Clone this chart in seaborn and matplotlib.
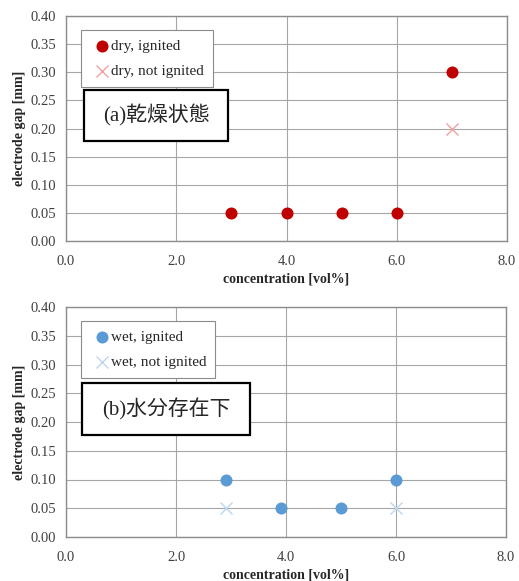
import matplotlib
matplotlib.use("Agg")
import matplotlib.pyplot as plt
from matplotlib.patches import Rectangle
import seaborn as sns
import pandas as pd

# panel (a): dry
dry_ign_x = [3.0, 4.0, 5.0, 6.0, 7.0]
dry_ign_y = [0.05, 0.05, 0.05, 0.05, 0.30]
dry_not_x = [7.0]
dry_not_y = [0.20]

# panel (b): wet
wet_ign_x = [2.9, 3.9, 5.0, 6.0]
wet_ign_y = [0.10, 0.05, 0.05, 0.10]
wet_not_x = [2.9, 6.0]
wet_not_y = [0.05, 0.05]

x_ticks = [0.0, 2.0, 4.0, 6.0, 8.0]
y_ticks = [0.00, 0.05, 0.10, 0.15, 0.20, 0.25, 0.30, 0.35, 0.40]

sns.set_style("white")
plt.rcParams['font.family'] = ['Liberation Serif', 'Noto Sans CJK JP', 'DejaVu Sans']

fig = plt.figure(figsize=(5.19, 5.81), dpi=100)
W, H = 519, 581


def panel(rect, ign_x, ign_y, not_x, not_y, c_ign, c_not, lab_ign, lab_not, tag, box):
    l, t, r, b = rect
    aw, ah = r - l, b - t
    ax = fig.add_axes([l / W, 1 - b / H, aw / W, ah / H])
    ign = pd.DataFrame({"x": ign_x, "y": ign_y})
    nig = pd.DataFrame({"x": not_x, "y": not_y})
    sns.scatterplot(data=ign, x="x", y="y", ax=ax, color=c_ign, marker="o",
                    s=75, edgecolor=c_ign, linewidth=0, label=lab_ign, zorder=3)
    sns.scatterplot(data=nig, x="x", y="y", ax=ax, color=c_not, marker="x",
                    s=75, linewidth=1.0, label=lab_not, zorder=3)
    ax.set_xlim(0, 8)
    ax.set_ylim(0, 0.40)
    ax.set_xticks(x_ticks)
    ax.set_yticks(y_ticks)
    ax.set_xticklabels([f"{v:.1f}" for v in x_ticks], fontsize=10.5, color="#404040")
    ax.set_yticklabels([f"{v:.2f}" for v in y_ticks], fontsize=10.5, color="#404040")
    ax.tick_params(axis="x", length=0, pad=10)
    ax.tick_params(axis="y", length=0, pad=7)
    ax.grid(True, color="#a6a6a6", linewidth=0.8)
    ax.set_axisbelow(True)
    for s in ax.spines.values():
        s.set_color("#8c8c8c")
        s.set_linewidth(1.0)
    ax.set_xlabel("concentration [vol%]", fontsize=10, fontweight="bold", labelpad=3)
    ax.set_ylabel("electrode gap [mm]", fontsize=10, fontweight="bold", labelpad=3)
    leg = ax.legend(loc="upper left", bbox_to_anchor=(15 / aw, 1 - 14 / ah),
                    fontsize=11, frameon=True, fancybox=False, handletextpad=-0.25,
                    borderpad=0.6, labelspacing=0.75, handlelength=1.6,
                    borderaxespad=0, framealpha=1)
    leg.get_frame().set_edgecolor("#8c8c8c")
    leg.get_frame().set_linewidth(0.8)
    # text box (pixels from the panel's top-left corner)
    bx0, bx1, by0, by1 = box
    ax.add_patch(Rectangle((bx0 / aw, 1 - by1 / ah), (bx1 - bx0) / aw, (by1 - by0) / ah,
                           transform=ax.transAxes, facecolor="white",
                           edgecolor="black", linewidth=1.6, zorder=6))
    ax.text((bx0 + bx1) / 2 / aw, 1 - (by0 + by1) / 2 / ah, tag, fontsize=15,
            ha="center", va="center", transform=ax.transAxes, zorder=7)
    return ax


panel((66, 16, 507, 241), dry_ign_x, dry_ign_y, dry_not_x, dry_not_y,
      "#c00000", "#f4a0a0", "dry, ignited", "dry, not ignited", "(a)乾燥状態",
      (18, 162, 74, 125))
panel((66, 307, 506, 537), wet_ign_x, wet_ign_y, wet_not_x, wet_not_y,
      "#5b9bd5", "#bdd7ee", "wet, ignited", "wet, not ignited", "(b)水分存在下",
      (16, 184, 76, 128))

fig.savefig("out.png", dpi=100)
